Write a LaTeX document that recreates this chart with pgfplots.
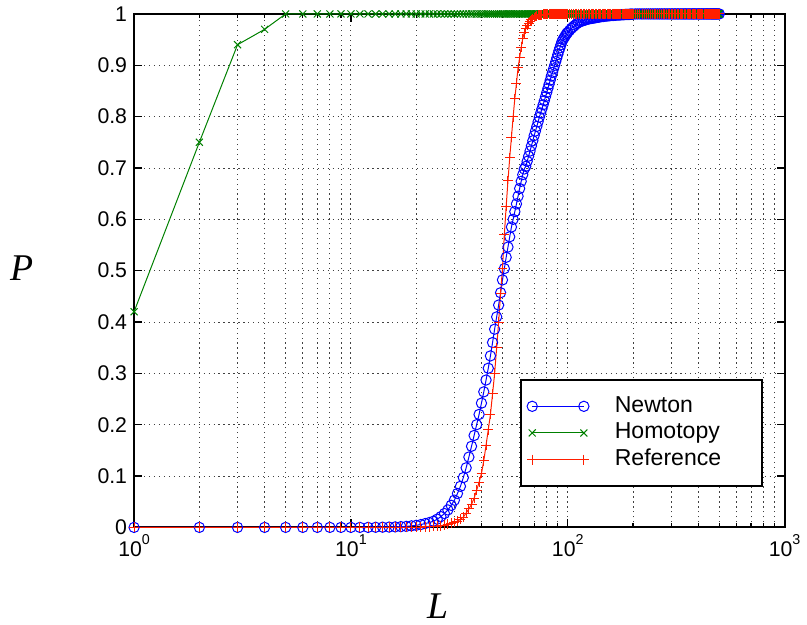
\documentclass[border=0pt]{standalone}
\usepackage{fontspec}
\setmainfont{Liberation Sans}
\newfontfamily\serifit{Liberation Serif}
\usepackage{pgfplots}
\pgfplotsset{compat=1.18}
\usepackage{pgfplotstable}

\definecolor{cNewton}{RGB}{0,0,255}
\definecolor{cHomo}{RGB}{0,128,0}
\definecolor{cRef}{RGB}{255,30,0}

\newcommand\tp[1]{10\raisebox{6.3pt}{\fontsize{7.2}{8}\selectfont #1}}

% L, Newton, Homotopy, Reference
\pgfplotstableread{
L newton homotopy reference
1 0 0.42 0
2 0 0.75 0
3 0 0.94 0
4 0 0.97 0
5 0 1 0
6 0 1 0
7 0 1 0
8 0 1 0
9 0 1 0
10 0 1 0
11 0 1 0
12 0 1 0
13 0.0002 1 0
14 0.0004 1 0
15 0.0006 1 0
16 0.001 1 0
17 0.0015 1 0
18 0.002 1 0
19 0.003 1 0
20 0.004 1 0
21 0.0055 1 0.0005
22 0.0075 1 0.001
23 0.0095 1 0.0015
24 0.012 1 0.002
25 0.016 1 0.0025
26 0.021 1 0.0035
27 0.027 1 0.0045
28 0.034 1 0.006
29 0.043 1 0.008
30 0.053 1 0.0095
31 0.066 1 0.012
32 0.080 1 0.016
33 0.097 1 0.020
34 0.116 1 0.028
35 0.137 1 0.036
36 0.158 1 0.045
37 0.179 1 0.057
38 0.200 1 0.072
39 0.220 1 0.088
40 0.242 1 0.105
41 0.264 1 0.130
42 0.287 1 0.160
43 0.310 1 0.190
44 0.334 1 0.220
45 0.360 1 0.260
46 0.386 1 0.300
47 0.410 1 0.350
48 0.433 1 0.400
49 0.457 1 0.455
50 0.482 1 0.505
51 0.504 1 0.570
52 0.526 1 0.625
53 0.546 1 0.675
54 0.566 1 0.720
55 0.585 1 0.760
56 0.600 1 0.800
57 0.615 1 0.835
58 0.630 1 0.865
59 0.645 1 0.895
60 0.660 1 0.915
61 0.674 1 0.935
62 0.687 1 0.952
63 0.698 1 0.963
64 0.703 1 0.971
65 0.713 1 0.978
66 0.723 1 0.982
67 0.733 1 0.986
68 0.743 1 0.989
69 0.753 1 0.991
70 0.763 1 0.993
71 0.772 1 0.995
72 0.781 1 0.996
73 0.790 1 0.997
74 0.799 1 0.9975
75 0.807 1 0.998
76 0.815 1 0.9985
77 0.823 1 0.999
78 0.831 1 0.999
79 0.839 1 0.9995
80 0.847 1 0.9995
81 0.855 1 1
82 0.863 1 1
83 0.871 1 1
84 0.879 1 1
85 0.886 1 1
86 0.893 1 1
87 0.900 1 1
88 0.907 1 1
89 0.914 1 1
90 0.921 1 1
91 0.928 1 1
92 0.934 1 1
93 0.940 1 1
94 0.946 1 1
95 0.950 1 1
96 0.953 1 1
97 0.956 1 1
98 0.959 1 1
99 0.962 1 1
100 0.964 1 1
102 0.968 1 1
104 0.972 1 1
106 0.975 1 1
108 0.978 1 1
110 0.981 1 1
112 0.983 1 1
114 0.985 1 1
116 0.986 1 1
118 0.987 1 1
120 0.988 1 1
122 0.989 1 1
124 0.990 1 1
126 0.9905 1 1
128 0.991 1 1
130 0.9915 1 1
132 0.992 1 1
134 0.9925 1 1
136 0.993 1 1
138 0.9935 1 1
140 0.994 1 1
142 0.9945 1 1
144 0.995 1 1
146 0.995 1 1
148 0.9955 1 1
150 0.996 1 1
152 0.996 1 1
154 0.9965 1 1
156 0.9965 1 1
158 0.997 1 1
160 0.997 1 1
162 0.997 1 1
164 0.9975 1 1
166 0.9975 1 1
168 0.998 1 1
170 0.998 1 1
172 0.998 1 1
174 0.998 1 1
176 0.9985 1 1
178 0.9985 1 1
180 0.9985 1 1
182 0.9985 1 1
184 0.999 1 1
186 0.999 1 1
188 0.999 1 1
190 0.999 1 1
192 0.999 1 1
194 0.9995 1 1
196 0.9995 1 1
198 0.9995 1 1
200 0.9995 1 1
205 1 1 1
210 1 1 1
215 1 1 1
220 1 1 1
225 1 1 1
230 1 1 1
235 1 1 1
240 1 1 1
245 1 1 1
250 1 1 1
255 1 1 1
260 1 1 1
265 1 1 1
270 1 1 1
275 1 1 1
280 1 1 1
285 1 1 1
290 1 1 1
295 1 1 1
300 1 1 1
305 1 1 1
310 1 1 1
315 1 1 1
320 1 1 1
325 1 1 1
330 1 1 1
335 1 1 1
340 1 1 1
345 1 1 1
350 1 1 1
355 1 1 1
360 1 1 1
365 1 1 1
370 1 1 1
375 1 1 1
380 1 1 1
385 1 1 1
390 1 1 1
395 1 1 1
400 1 1 1
405 1 1 1
410 1 1 1
415 1 1 1
420 1 1 1
425 1 1 1
430 1 1 1
435 1 1 1
440 1 1 1
445 1 1 1
450 1 1 1
455 1 1 1
460 1 1 1
465 1 1 1
470 1 1 1
475 1 1 1
480 1 1 1
485 1 1 1
490 1 1 1
495 1 1 1
500 1 1 1
}\probdata

\begin{document}
\begin{tikzpicture}
\begin{axis}[name=ax,
  scale only axis, width=327.5pt, height=258.5pt,
  xmode=log, xmin=1, xmax=1000, ymin=0, ymax=1,
  clip=false,
  xtick={1,10,100,1000},
  xticklabels={\tp{0},\tp{1},\tp{2},\tp{3}},
  minor xtick={2,3,4,5,6,7,8,9,20,30,40,50,60,70,80,90,200,300,400,500,600,700,800,900},
  ytick={0,0.1,0.2,0.3,0.4,0.5,0.6,0.7,0.8,0.9,1},
  yticklabels={0,0.1,0.2,0.3,0.4,0.5,0.6,0.7,0.8,0.9,1},
  tick label style={font=\fontsize{10.7}{12}\selectfont},
  tick align=inside, major tick length=4pt, minor tick length=2.2pt,
  every tick/.style={black, line width=0.6pt},
  axis line style={line width=1.1pt},
  grid=both,
  major grid style={black!75, line width=0.45pt, dash pattern=on 0.6pt off 1.9pt},
  minor grid style={black!75, line width=0.45pt, dash pattern=on 0.6pt off 1.9pt},
  xlabel={L}, ylabel={P},
  label style={font=\serifit\itshape\fontsize{19}{22}\selectfont},
  xlabel style={at={(axis description cs:0.467,-0.153)}, anchor=center},
  ylabel style={at={(axis description cs:-0.173,0.505)}, anchor=center, rotate=-90},
  legend image code/.code={\draw[#1] plot coordinates {(0pt,0pt) (26pt,0pt)};},
  legend cell align=left,
  legend style={at={(axis description cs:0.9664,0.0793)}, anchor=south east,
    draw=black, line width=0.7pt, fill=white,
    font=\fontsize{11.6}{13}\selectfont,
    inner xsep=3.1pt, inner ysep=7pt, row sep=0.8pt, column sep=12pt,
    nodes={inner sep=1pt, text height=8.3pt, text depth=2.3pt}},
]
\addplot[cNewton, line width=0.5pt, mark=o, mark size=2.6pt,
  mark options={solid, draw=cNewton, line width=0.5pt}]
  table[x=L, y=newton] {\probdata};
\addplot[cHomo, line width=0.5pt, mark=x, mark size=2.5pt,
  mark options={solid, draw=cHomo, line width=0.5pt}]
  table[x=L, y=homotopy] {\probdata};
\addplot[cRef, line width=0.5pt, mark=+, mark size=2.5pt,
  mark options={solid, draw=cRef, fill=cRef, line width=0.5pt}]
  table[x=L, y=reference] {\probdata};
% legend samples with their colours given explicitly
\addlegendimage{draw=cNewton, line width=0.5pt, mark=o, mark size=2.6pt, mark options={solid, draw=cNewton}}
\addlegendentry{\makebox[70pt][l]{Newton}}
\addlegendimage{draw=cHomo, line width=0.5pt, mark=x, mark size=2.5pt, mark options={solid, draw=cHomo}}
\addlegendentry{\makebox[70pt][l]{Homotopy}}
\addlegendimage{draw=cRef, line width=0.5pt, mark=+, mark size=2.5pt, mark options={solid, draw=cRef, fill=cRef}}
\addlegendentry{\makebox[70pt][l]{Reference}}
\end{axis}
\path ([shift={(-67.5pt,-47.5pt)}]ax.south west) rectangle ([shift={(8.5pt,7pt)}]ax.north east);
\end{tikzpicture}
\end{document}
